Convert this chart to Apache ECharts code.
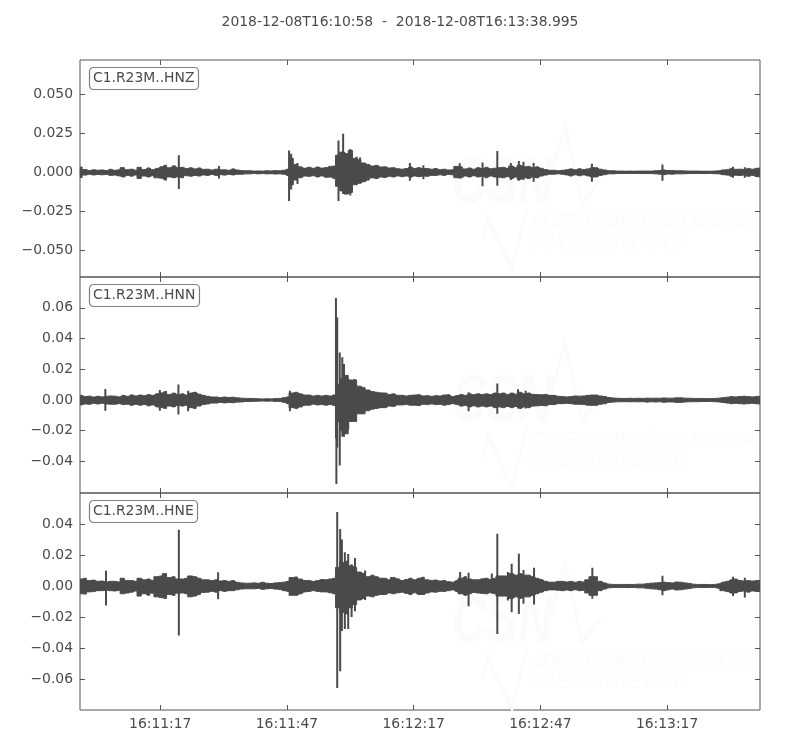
<!DOCTYPE html>
<html><head><meta charset="utf-8">
<style>html,body{margin:0;padding:0;background:#fff}#c{width:800px;height:750px}</style>
<script src="https://cdn.jsdelivr.net/npm/echarts@6/dist/echarts.min.js"></script>
</head><body><div id="c"></div>
<script>
const mainTitle = "2018-12-08T16:10:58  -  2018-12-08T16:13:38.995";
const channelNames = ["C1.R23M..HNZ", "C1.R23M..HNN", "C1.R23M..HNE"];
const xTickSeconds = [19, 49, 79, 109, 139];
const xTickLabels = ["16:11:17", "16:11:47", "16:12:17", "16:12:47", "16:13:17"];
const yTicksZ = [-0.05, -0.025, 0, 0.025, 0.05];
const yTicksN = [-0.04, -0.02, 0, 0.02, 0.04, 0.06];
const yTicksE = [-0.06, -0.04, -0.02, 0, 0.02, 0.04];
const yDecimals = [3, 2, 2];
const yRanges = [[-0.0674, 0.0723], [-0.0606, 0.0801], [-0.08, 0.06]];

// amplitude envelopes read per second after 16:10:58, in thousandths of the axis unit
const zHi = [3.4,1.8,1.2,1.6,1.3,1.5,1.2,1.9,1.3,1.6,
 3,1.7,2,1.4,3.2,1.8,2.8,1.7,2.5,3.6,
 4.5,3,4.2,3,3.2,2.4,2.9,2.2,2.8,1.9,
 2,1.5,2,1.6,1.6,1.3,2.2,1.5,1.1,1,
 1,0.8,0.9,0.8,1,0.9,1.1,1,1.3,2,
 9,5,3.5,2.6,3.3,2.6,3.4,2.7,3,3.8,
 4,11,13,12,14,9,8,6,5,4,
 4.5,3.4,3.5,2.8,3,2.3,2,2.4,3.5,2.5,
 3,2.4,2.5,2,2.4,1.7,2,1.5,1.6,3.8,
 3.5,2.2,2.8,2,3,2.4,3.2,2.3,2.6,3,
 3.2,2.6,4,3,4.5,3.6,3.8,3,3.5,2.6,
 1.8,1.3,1.3,1,1.3,1.6,2.2,1.6,2.3,1.8,
 2.2,3,3,2,1.5,1,1,0.8,0.8,0.7,
 0.8,0.7,0.8,0.8,0.8,0.8,1,1.2,1.5,1.1,
 1.2,1,1,0.9,0.8,0.8,0.8,0.7,0.7,0.7,
 0.8,1,1.5,1.7,2.5,1.9,2,1.8,2.5,2,2.6,2.8];
const zLo = [-3.4,-1.8,-1.3,-1.7,-1.4,-1.6,-1.4,-2,-1.8,-2.3,
 -3,-2,-2.5,-1.7,-4,-2.4,-3,-2.2,-3.5,-3.8,
 -5,-3,-3.5,-2.8,-3.5,-2.2,-2.5,-2,-2.4,-1.7,
 -2,-1.4,-2,-1.5,-1.8,-1.3,-1.7,-1.3,-1.3,-1,
 -1,-0.8,-1,-0.8,-1,-0.9,-1.1,-1,-1.2,-2,
 -8,-5,-3.5,-2.4,-2.6,-2.2,-3,-2.3,-3.2,-3.1,
 -4,-9,-12,-14,-13,-8,-7,-6,-5,-3.6,
 -4,-3,-3.3,-2.6,-3,-2.3,-2.8,-2.4,-3.2,-2.4,
 -2.8,-2.4,-2.6,-2,-2,-1.6,-2,-1.4,-1.6,-3.5,
 -3.5,-2.4,-3,-2.2,-3,-2.6,-3.5,-2.4,-3,-3.2,
 -3.5,-2.8,-4,-3,-4.5,-3.5,-4,-3,-3.5,-2.4,
 -1.8,-1.2,-1.2,-1,-1.3,-1.7,-2.4,-1.6,-2.2,-1.7,
 -2.3,-3,-3,-2,-1.5,-1,-1,-0.8,-0.8,-0.7,
 -0.8,-0.7,-0.8,-0.8,-0.8,-0.8,-1,-1.2,-1.5,-1.1,
 -1.2,-1,-1,-0.9,-0.8,-0.8,-0.8,-0.7,-0.8,-0.7,
 -0.9,-1,-1.5,-1.8,-2.6,-1.9,-2,-1.8,-2.6,-2,-2.8,-3];
const nHi = [3,2.2,2.5,1.9,2.4,2,2.4,2.6,2.5,2,
 3,2.4,3.3,2.6,3.2,2.8,3.5,3,4,4.6,
 5.5,3.6,4.5,3.4,4,3.2,4.5,5,3.8,3,
 2.4,1.9,1.9,1.6,1.9,1.6,1.8,1.4,1.2,1,
 1,0.9,0.8,0.7,0.8,0.7,0.9,1,1.5,2,
 4.5,5,4,3.2,3.2,2.6,3,2.6,3,2.6,
 3.3,10,14,16,13,13,9,8,6.5,5.5,
 5,4.6,4.5,3.6,4,3,3,2.6,3,3.2,
 3.4,2.6,2.8,2.4,2.8,2.6,3.2,3.4,2.2,2.8,
 3.5,3,4,3.4,4,3.5,4,3.6,4.5,4,
 4.5,3.6,4.5,3.8,5,4,4.5,3.6,3.5,3.4,
 3.6,3,3,2.4,2.2,2,2.2,2.6,2.5,2.6,
 3,3.2,3.2,2.6,2.2,1.6,1.3,1.1,1,1,
 1.1,1,1.1,1,1.2,1.1,1.2,1.1,1.3,1.2,
 1.2,1.4,1.4,1.2,1.1,1,1,0.9,0.9,0.9,
 1,1.2,1.5,1.8,2.2,2,2.2,2.4,2.2,2,2.3,2.4];
const nLo = [-3.2,-2.6,-2.8,-2.2,-2.6,-2.2,-2.6,-2.8,-2.8,-2.4,
 -3,-2.8,-3.5,-2.8,-3.4,-3,-3.8,-3.2,-4.5,-5,
 -5.5,-4,-4.5,-3.4,-4,-3.4,-5,-5.5,-4,-3,
 -2.6,-2,-2,-1.6,-1.9,-1.6,-1.8,-1.4,-1.3,-1,
 -1,-0.9,-0.8,-0.7,-0.8,-0.7,-1,-1,-1.5,-2.4,
 -5,-5.5,-4.5,-3.4,-3.4,-2.8,-3.2,-3,-3.4,-3,
 -3.6,-14,-20,-22,-14,-14,-9,-9,-7,-6,
 -5.5,-5,-5,-4,-4.2,-3.2,-3.2,-3,-3.4,-3.4,
 -3.6,-2.8,-3,-2.6,-3,-2.8,-3.4,-3,-2.4,-3,
 -4,-3.6,-4.5,-3.8,-4.5,-4,-4.5,-4,-5,-4.5,
 -5,-4.2,-5,-4.2,-5.5,-4.5,-5,-4,-3.8,-3.6,
 -3.8,-3,-3,-2.4,-2.4,-2.2,-2.4,-2.8,-2.8,-3,
 -3.4,-3.5,-3.5,-2.8,-2.4,-1.6,-1.4,-1.2,-1.1,-1.1,
 -1.2,-1.1,-1.2,-1.1,-1.4,-1.2,-1.3,-1.2,-1.5,-1.3,
 -1.3,-1.6,-1.6,-1.3,-1.2,-1.1,-1.1,-1,-1,-1,
 -1.1,-1.3,-1.6,-2,-2.4,-2.2,-2.4,-2.6,-2.4,-2.2,-2.5,-2.6];
const eHi = [4.5,5,3.5,3.8,3,3.2,2.6,3,3,2.6,
 5,3.6,3.5,3,5,4,4.5,3.6,6,6.5,
 8,5.5,6,4.5,4.5,5,6.5,6,5,4,
 4,3.4,4,3.2,3.5,3,3.5,2.4,2,1.8,
 1.8,2,1.8,2.4,1.8,1.6,2,2.2,2.5,3,
 5.5,5.8,4.5,3.5,3.5,3,3.5,4.2,4,4.5,
 5,12,15,16,13,12,9,8,6,7,
 6,5,5,4,5.5,4.6,3.5,4.2,5,4,
 5,5.5,4,3.6,3.8,3.2,3.5,2.8,2.5,3.5,
 5,6,4.5,4,4,4.6,5,4.2,5,6.5,
 6.5,6.4,8,7,8,7,7,6,5,4.2,
 3,2.5,2.5,3,3,2.6,3,2.4,3,2.6,
 4,6,6,3,2,1.2,1,1,1,1,
 1,1,1.2,1.2,1.5,1.8,2,2.2,2.5,2.2,
 2,2.6,2.4,2,1.7,1.2,1,1,1,0.9,
 1,1.4,2.5,3,4,4.5,3.5,3.2,3.5,3.2,3.5,3.5];
const eLo = [-5,-5.2,-3.8,-3.6,-3,-3,-2.8,-3,-3.2,-2.8,
 -5,-4.5,-4,-3.2,-6.5,-5,-6,-4.6,-7,-7.5,
 -8,-5.5,-6,-4.6,-4.5,-5,-7,-6.5,-5.5,-4.2,
 -4,-3.4,-4,-3,-3.5,-3,-3,-2.4,-2,-1.8,
 -1.8,-1.8,-1.6,-2.2,-1.8,-1.6,-2,-2.2,-3,-3.4,
 -6,-6,-5,-3.8,-3.5,-3,-3.5,-3.8,-3.8,-4.4,
 -5,-14,-17,-18,-14,-12,-9,-8,-6.5,-7,
 -6,-5.5,-5.5,-4.5,-5,-4.4,-4,-4.8,-5.5,-4.4,
 -5.5,-5.5,-4.5,-3.8,-4,-3.4,-3.5,-3,-2.5,-3.6,
 -5,-6,-5,-4.2,-4.5,-4.8,-5,-4.2,-5,-6.5,
 -6.5,-6.5,-8,-7,-8,-7,-7,-6,-5,-4,
 -3,-2.5,-2.5,-2.8,-3,-2.6,-3,-2.4,-3,-2.8,
 -4.5,-6,-6,-3,-2,-1.2,-1,-1,-1,-1,
 -1,-1,-1.2,-1.2,-1.5,-1.8,-2,-2.4,-3,-2.4,
 -2,-2.6,-2.4,-2,-1.7,-1.2,-1,-1,-1,-0.9,
 -1,-1.5,-3,-3.6,-4.5,-4.5,-3.5,-3.2,-4,-3.2,-3.5,-3.5];

// sharp peaks: time, top, bottom (same unit)
const zPeaks = [[0.2,3.4,-3.4],[23.4,10.9,-10.7],[32.9,4,-4],[49.5,14,-18.5],[50,12,-11],[51.5,6,-7.5],[61.2,20.5,-18.5],[62.3,24.8,-14],[64,15,-15],[65.5,10,-8],[66.3,9.5,-7],[78.1,6,-5.5],[81.3,4.5,-4.5],[89.9,5.8,-4],[95.3,6.3,-9],[98.8,13.7,-8.6],[102,6,-5],[103.9,7.2,-5.5],[105,6.8,-5],[107.4,6,-6],[121.2,5.5,-6],[137.9,5,-5.5],[154.6,3.5,-3.5],[157.4,3.2,-3.5]];
const nPeaks = [[6,7.2,-7],[18.9,6.5,-7],[23.3,10,-9.5],[25.6,6,-7.4],[49.7,6,-7.4],[60.6,66.4,-25],[60.7,40,-54.7],[60.9,53.8,-31],[61.5,31,-42.7],[62.1,27.8,-24],[62.5,23.4,-24],[63.5,13.7,-19],[65,13.7,-12.4],[92,5,-7.4],[98.8,10.8,-9],[103.7,7,-5.5],[105.5,6,-5.5]];
const ePeaks = [[6.15,9.9,-12.5],[23.4,36.3,-32],[32.7,8.8,-8.6],[60.9,47.7,-65.8],[61.6,36.8,-55],[62,30,-29],[62.7,21.7,-27.7],[63.5,20.6,-27.7],[64.3,14,-20],[65.1,18,-16.3],[67.5,10,-9],[81.3,6,-5.5],[90,9,-5],[92,8.5,-13],[97.5,8,-5],[98.8,33.7,-31],[101.3,9,-9.3],[102.2,14.3,-16.9],[103.9,20.8,-18],[105,10.4,-11.5],[107.5,11.7,-12],[121.3,11.7,-8.3],[137.9,6.6,-6],[154.6,6,-6.5],[157.4,5.3,-7.4]];

const highs = [zHi, nHi, eHi], lows = [zLo, nLo, eLo], peaks = [zPeaks, nPeaks, ePeaks];
const yTicks = [yTicksZ, yTicksN, yTicksE];
const ink = "#4a4a4a", frame = "#555555", FONT = "'DejaVu Sans', sans-serif";
const gridTops = [60, 277, 493], gridHeights = [217, 216, 217];
const waterOffsets = [0, 218, 439], waterColor = "#fbfbfb";
const xSpan = [0, 160.995];

const grid = [], xAxis = [], yAxis = [], series = [], title = [], graphic = [];
title.push({text: mainTitle, left: "center", top: 10,
  textStyle: {fontFamily: FONT, fontSize: 13.9, fontWeight: "normal", color: ink}});

channelNames.forEach((name, i) => {
  grid.push({left: 80, top: gridTops[i], width: 680, height: gridHeights[i], show: true,
    borderColor: frame, borderWidth: 1, backgroundColor: "transparent"});
  const tickInside = len => ({show: true, inside: true, length: len, lineStyle: {color: frame, width: 1}});
  const noLine = {show: false, onZero: false};
  xAxis.push({type: "value", gridIndex: i, position: "bottom", min: xSpan[0], max: xSpan[1],
    splitLine: {show: false}, axisLine: noLine,
    axisTick: Object.assign(tickInside(5), {customValues: xTickSeconds}),
    axisLabel: {show: i === 2, customValues: xTickSeconds, margin: 7, fontFamily: FONT, fontSize: 13.9, color: ink,
      formatter: v => xTickLabels[xTickSeconds.indexOf(v)] || ""}});
  xAxis.push({type: "value", gridIndex: i, position: "top", min: xSpan[0], max: xSpan[1],
    splitLine: {show: false}, axisLine: noLine,
    axisTick: Object.assign(tickInside(5), {customValues: xTickSeconds}), axisLabel: {show: false}});
  yAxis.push({type: "value", gridIndex: i, position: "left", min: yRanges[i][0], max: yRanges[i][1],
    splitLine: {show: false}, axisLine: noLine,
    axisTick: Object.assign(tickInside(5), {customValues: yTicks[i]}),
    axisLabel: {customValues: yTicks[i], margin: 7, fontFamily: FONT, fontSize: 13.9, color: ink,
      formatter: v => v.toFixed(yDecimals[i]).replace("-", "\u2212")}});
  yAxis.push({type: "value", gridIndex: i, position: "right", min: yRanges[i][0], max: yRanges[i][1],
    splitLine: {show: false}, axisLine: noLine,
    axisTick: Object.assign(tickInside(5), {customValues: yTicks[i]}), axisLabel: {show: false}});

  [[highs[i], -0.0006], [lows[i], 0.0006]].forEach(([arr, origin]) => {
    series.push({type: "line", step: "middle", xAxisIndex: 2 * i, yAxisIndex: 2 * i, showSymbol: false, silent: true,
      animation: false, z: 3, lineStyle: {color: ink, width: 1}, itemStyle: {color: ink},
      areaStyle: {color: ink, opacity: 1, origin},
      data: arr.map((v, sec) => [sec, v / 1000])});
  });
  const peakData = [];
  peaks[i].forEach(p => { peakData.push([p[0], p[1] / 1000], [p[0], p[2] / 1000], [p[0], null]); });
  series.push({type: "line", xAxisIndex: 2 * i, yAxisIndex: 2 * i, showSymbol: false, silent: true,
    animation: false, z: 4, connectNulls: false, lineStyle: {color: ink, width: 2}, data: peakData});

  title.push({text: name, left: 89, top: gridTops[i] + 7,
    padding: [4, 4, 4, 4], borderColor: "#808080", borderWidth: 1.2, borderRadius: 4, backgroundColor: "#fff",
    textStyle: {fontFamily: FONT, fontSize: 13.9, fontWeight: "normal", color: ink, lineHeight: 15}, z: 10});

  const dy = waterOffsets[i];
  graphic.push(
    {type: "text", x: 452, y: 152 + dy, scaleX: 0.72, z: 0, silent: true,
      style: {text: "CSN", fill: waterColor, font: "italic bold 66px 'Liberation Sans', sans-serif"}},
    {type: "text", x: 533, y: 212 + dy, scaleX: 0.66, z: 0, silent: true,
      style: {text: "CENTRO SISMOLÓGICO NACIONAL", fill: waterColor, font: "italic 20px 'Liberation Sans', sans-serif"}},
    {type: "text", x: 528, y: 233 + dy, scaleX: 0.66, z: 0, silent: true,
      style: {text: "UNIVERSIDAD DE CHILE", fill: waterColor, font: "italic 20px 'Liberation Sans', sans-serif"}},
    {type: "polyline", z: 0, silent: true, shape: {points: [[545, 197 + dy], [565, 125 + dy], [582, 203 + dy], [600, 180 + dy]]},
      style: {stroke: waterColor, lineWidth: 3, fill: null}},
    {type: "polyline", z: 0, silent: true, shape: {points: [[482, 240 + dy], [488, 218 + dy], [512, 270 + dy], [527, 208 + dy]]},
      style: {stroke: waterColor, lineWidth: 3, fill: null}}
  );
});

const chart = echarts.init(document.getElementById("c"), null, {renderer: "canvas"});
chart.setOption({animation: false, backgroundColor: "#fff", title, grid, xAxis, yAxis, series, graphic});
</script></body></html>
